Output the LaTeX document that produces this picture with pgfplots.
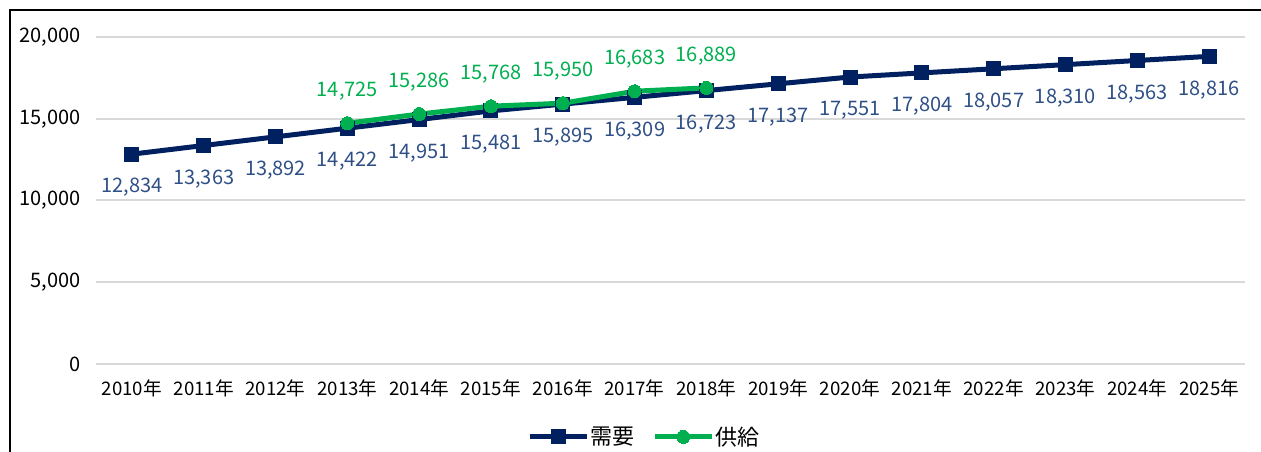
\documentclass[border=0pt]{standalone}
\usepackage{pgfplots}
\pgfplotsset{compat=1.18}
\usepackage{fontspec}
\setmainfont{Noto Sans CJK JP}
\definecolor{navy}{HTML}{002060}
\definecolor{lblnavy}{HTML}{2F5087}
\definecolor{grn}{HTML}{00B050}
\definecolor{gridgray}{HTML}{D9D9D9}
\begin{document}
\begin{tikzpicture}[x=1pt,y=1pt]
\useasboundingbox (0,0) rectangle (945.75,339);
\fill[white] (0,0) rectangle (945.75,339);
\draw[line width=1.5pt,black] (7.5,0) -- (7.5,331.5) -- (945.75,331.5);
\begin{axis}[
  at={(72pt,66pt)}, anchor=south west,
  scale only axis, width=861.75pt, height=245.25pt,
  xmin=-0.5, xmax=15.5, ymin=0, ymax=20000,
  axis line style={draw=none},
  major tick length=0pt,
  ytick={0,5000,10000,15000,20000},
  ymajorgrids, grid style={gridgray, line width=1.5pt},
  xtick={0,...,15},
  xticklabels={2010年,2011年,2012年,2013年,2014年,2015年,2016年,2017年,2018年,2019年,2020年,2021年,2022年,2023年,2024年,2025年},
  xticklabel style={font=\fontsize{14}{16}\selectfont, yshift=-8pt},
  yticklabel style={font=\fontsize{15}{17}\selectfont, xshift=-8pt},
  /pgf/number format/1000 sep={,},
  /pgf/number format/assume math mode=true,
  scaled y ticks=false,
  clip=false,
  legend style={at={(0.477,-0.223)}, anchor=center, draw=none, legend columns=2,
    font=\fontsize{16.5}{18}\selectfont,
    /tikz/every odd column/.append style={column sep=0pt},
    /tikz/every even column/.append style={column sep=12pt},
    nodes={inner xsep=1pt}},
  legend image code/.code={\draw[mark repeat=2,mark phase=2] plot coordinates {(0pt,0pt) (21.5pt,0pt) (43pt,0pt)};},
]
\addplot[navy, line width=3.75pt, mark=square*, mark size=5.25pt, mark options={line width=0pt, fill=navy},
  nodes near coords, point meta=y,
  every node near coord/.append style={anchor=center, yshift=-25pt, text=lblnavy, font=\fontsize{15}{17}\selectfont, /pgf/number format/1000 sep={,}, /pgf/number format/assume math mode=true}]
coordinates {(0,12834) (1,13363) (2,13892) (3,14422) (4,14951) (5,15481) (6,15895) (7,16309) (8,16723) (9,17137) (10,17551) (11,17804) (12,18057) (13,18310) (14,18563) (15,18816)};
\addlegendentry{需要}
\addplot[grn, line width=3.75pt, mark=*, mark size=4.9pt, mark options={line width=0pt, fill=grn},
  nodes near coords, point meta=y,
  every node near coord/.append style={anchor=center, yshift=24pt, text=grn, font=\fontsize{15}{17}\selectfont, /pgf/number format/1000 sep={,}, /pgf/number format/assume math mode=true}]
coordinates {(3,14725) (4,15286) (5,15768) (6,15950) (7,16683) (8,16889)};
\addlegendentry{供給}
\end{axis}
\end{tikzpicture}
\end{document}
